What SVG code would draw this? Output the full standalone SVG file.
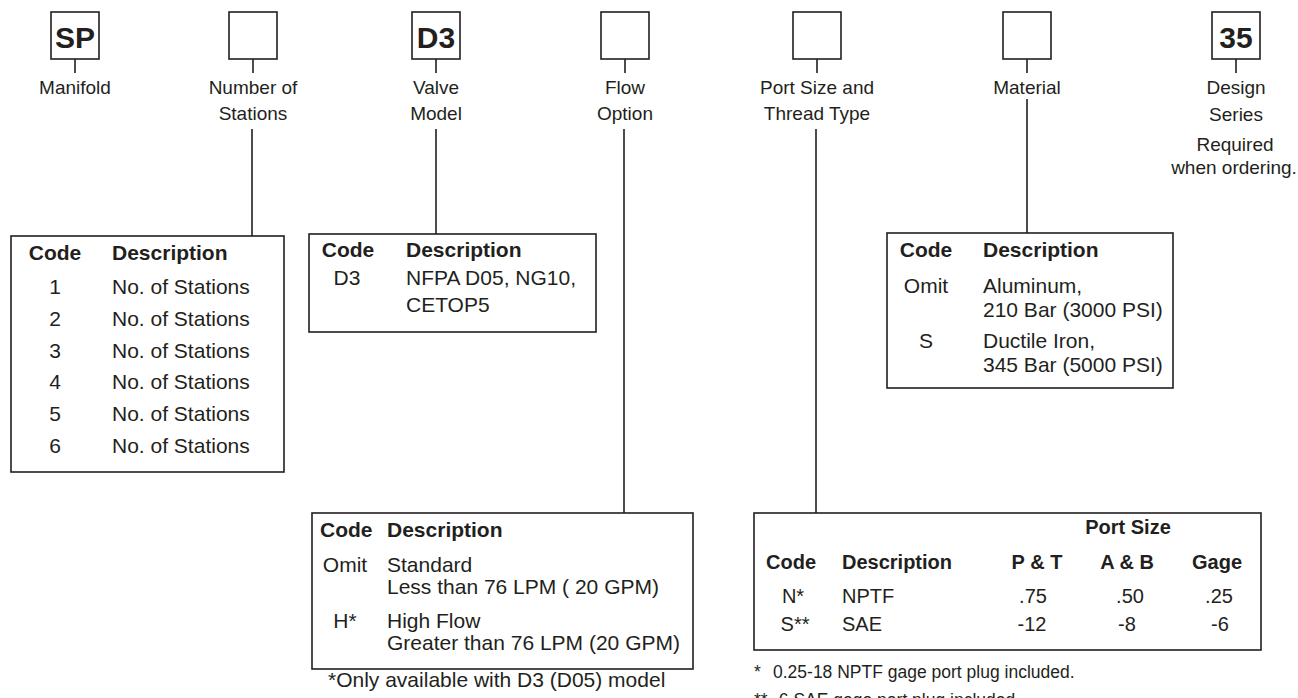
<svg xmlns="http://www.w3.org/2000/svg" width="1298" height="698" viewBox="0 0 1298 698">
<style>
.bx{fill:#fff;stroke:#231f20;stroke-width:1.6}
.ln{fill:none;stroke:#231f20;stroke-width:1.6}
.lab{font-family:"Liberation Sans",Arial,sans-serif;font-size:19px;fill:#231f20;text-anchor:middle}
.big{font-family:"Liberation Sans",Arial,sans-serif;font-size:30px;font-weight:bold;fill:#231f20;text-anchor:middle}
.t{font-family:"Liberation Sans",Arial,sans-serif;font-size:21px;fill:#231f20}
.h{font-family:"Liberation Sans",Arial,sans-serif;font-size:21px;font-weight:bold;fill:#231f20}
.p{font-size:20px}
.fn{font-family:"Liberation Sans",Arial,sans-serif;font-size:17.5px;fill:#231f20}
.c{text-anchor:middle}
</style>
<rect width="1298" height="698" fill="#fff"/>
<g id="connectors">
<line class="ln" x1="75" y1="59" x2="75" y2="73"/>
<line class="ln" x1="253" y1="59" x2="253" y2="73"/>
<line class="ln" x1="436" y1="59" x2="436" y2="73"/>
<line class="ln" x1="625" y1="59" x2="625" y2="73"/>
<line class="ln" x1="817" y1="59" x2="817" y2="73"/>
<line class="ln" x1="1027" y1="59" x2="1027" y2="73"/>
<line class="ln" x1="1236" y1="59" x2="1236" y2="73"/>
<line class="ln" x1="252" y1="129" x2="252" y2="236"/>
<line class="ln" x1="436" y1="129" x2="436" y2="234"/>
<line class="ln" x1="624" y1="129" x2="624" y2="513"/>
<line class="ln" x1="816" y1="129" x2="816" y2="513"/>
<line class="ln" x1="1027" y1="99" x2="1027" y2="233"/>
</g>
<g id="manifold">
<rect class="bx" x="51" y="12" width="48" height="47"/>
<text class="big" x="75" y="48">SP</text>
<text class="lab" x="75" y="94">Manifold</text>
</g>
<g id="stations">
<rect class="bx" x="229" y="12" width="48" height="47"/>
<text class="lab" x="253" y="94">Number of</text>
<text class="lab" x="253" y="120">Stations</text>
</g>
<g id="valve">
<rect class="bx" x="412" y="12" width="48" height="47"/>
<text class="big" x="436" y="48">D3</text>
<text class="lab" x="436" y="94">Valve</text>
<text class="lab" x="436" y="120">Model</text>
</g>
<g id="flow">
<rect class="bx" x="601" y="12" width="48" height="47"/>
<text class="lab" x="625" y="94">Flow</text>
<text class="lab" x="625" y="120">Option</text>
</g>
<g id="port">
<rect class="bx" x="793" y="12" width="48" height="47"/>
<text class="lab" x="817" y="94">Port Size and</text>
<text class="lab" x="817" y="120">Thread Type</text>
</g>
<g id="material">
<rect class="bx" x="1003" y="12" width="48" height="47"/>
<text class="lab" x="1027" y="94">Material</text>
</g>
<g id="design">
<rect class="bx" x="1212" y="12" width="48" height="47"/>
<text class="big" x="1236" y="48">35</text>
<text class="lab" x="1236" y="94">Design</text>
<text class="lab" x="1236" y="121">Series</text>
<text class="lab" x="1235" y="151">Required</text>
<text class="lab" x="1234" y="174">when ordering.</text>
</g>
<g id="stations-table">
<rect class="bx" x="11" y="236" width="273" height="236"/>
<text class="h c" x="55" y="260">Code</text>
<text class="h" x="112" y="260">Description</text>
<text class="t c" x="55" y="294">1</text><text class="t" x="112" y="294">No. of Stations</text>
<text class="t c" x="55" y="326">2</text><text class="t" x="112" y="326">No. of Stations</text>
<text class="t c" x="55" y="358">3</text><text class="t" x="112" y="358">No. of Stations</text>
<text class="t c" x="55" y="389">4</text><text class="t" x="112" y="389">No. of Stations</text>
<text class="t c" x="55" y="421">5</text><text class="t" x="112" y="421">No. of Stations</text>
<text class="t c" x="55" y="453">6</text><text class="t" x="112" y="453">No. of Stations</text>
</g>
<g id="valve-table">
<rect class="bx" x="309" y="234" width="287" height="98"/>
<text class="h c" x="348" y="257">Code</text>
<text class="h" x="406" y="257">Description</text>
<text class="t c" x="347" y="285">D3</text>
<text class="t" x="406" y="285">NFPA D05, NG10,</text>
<text class="t" x="406" y="312">CETOP5</text>
</g>
<g id="flow-table">
<rect class="bx" x="312" y="513" width="381" height="156"/>
<text class="h" x="320" y="537">Code</text>
<text class="h" x="387" y="537">Description</text>
<text class="t c" x="345" y="572">Omit</text>
<text class="t" x="387" y="572">Standard</text>
<text class="t" x="387" y="594">Less than 76 LPM ( 20 GPM)</text>
<text class="t c" x="345" y="628">H*</text>
<text class="t" x="387" y="628">High Flow</text>
<text class="t" x="387" y="650">Greater than 76 LPM (20 GPM)</text>
<text class="t" x="328" y="687">*Only available with D3 (D05) model</text>
</g>
<g id="port-table">
<rect class="bx" x="754" y="513" width="507" height="137"/>
<text class="h p c" x="1128" y="534">Port Size</text>
<text class="h p c" x="791" y="569">Code</text>
<text class="h p" x="842" y="569">Description</text>
<text class="h p c" x="1037" y="569">P &amp; T</text>
<text class="h p c" x="1127" y="569">A &amp; B</text>
<text class="h p c" x="1217" y="569">Gage</text>
<text class="t p c" x="793" y="603">N*</text>
<text class="t p" x="842" y="603">NPTF</text>
<text class="t p c" x="1033" y="603">.75</text>
<text class="t p c" x="1130" y="603">.50</text>
<text class="t p c" x="1219" y="603">.25</text>
<text class="t p c" x="795" y="631">S**</text>
<text class="t p" x="842" y="631">SAE</text>
<text class="t p c" x="1032" y="631">-12</text>
<text class="t p c" x="1127" y="631">-8</text>
<text class="t p c" x="1220" y="631">-6</text>
<text class="fn" x="754" y="678">*</text>
<text class="fn" x="773" y="678">0.25-18 NPTF gage port plug included.</text>
<text class="fn" x="754" y="706">**</text>
<text class="fn" x="773" y="706">-6 SAE gage port plug included.</text>
</g>
<g id="material-table">
<rect class="bx" x="887" y="233" width="286" height="155"/>
<text class="h c" x="926" y="257">Code</text>
<text class="h" x="983" y="257">Description</text>
<text class="t c" x="926" y="293">Omit</text>
<text class="t" x="983" y="293">Aluminum,</text>
<text class="t" x="983" y="317">210 Bar (3000 PSI)</text>
<text class="t c" x="926" y="348">S</text>
<text class="t" x="983" y="348">Ductile Iron,</text>
<text class="t" x="983" y="372">345 Bar (5000 PSI)</text>
</g>
</svg>
